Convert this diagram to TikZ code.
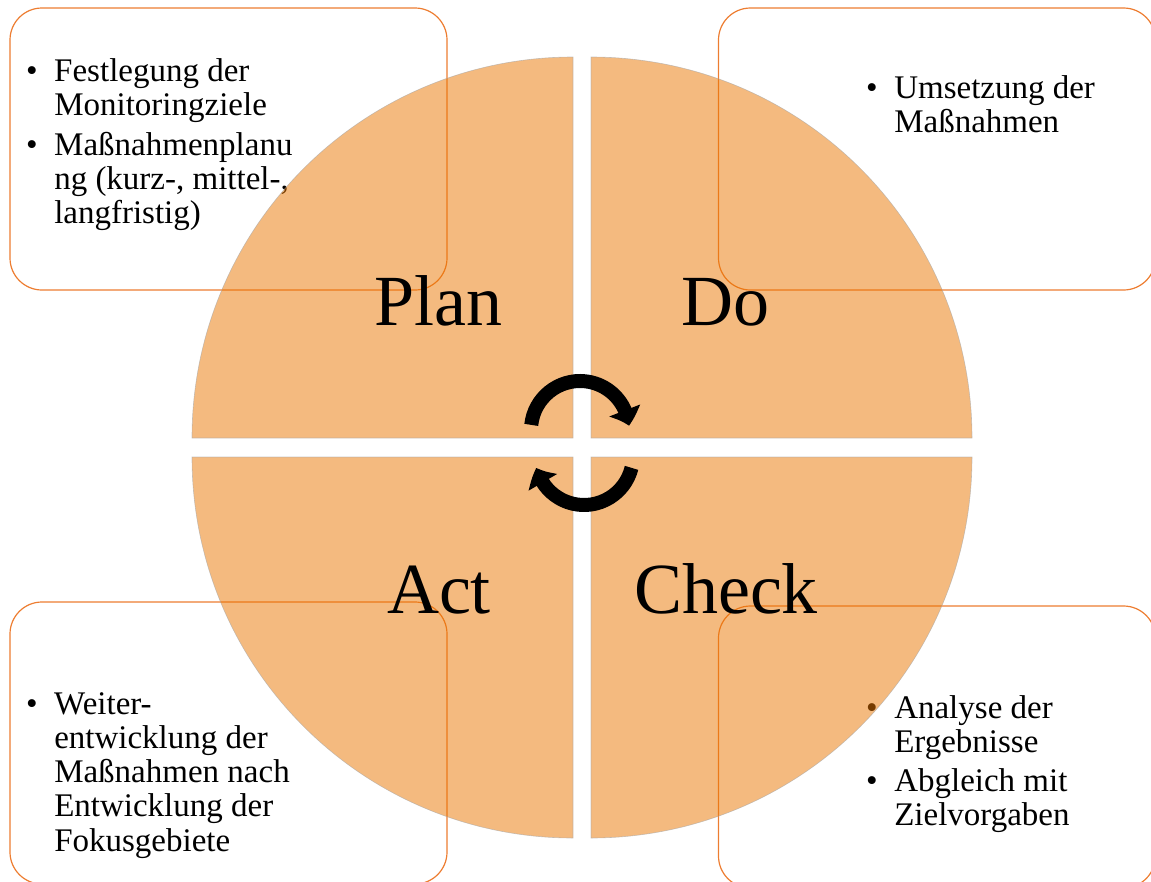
\documentclass[tikz,border=0pt]{standalone}
\usepackage{fontspec}
\setmainfont{Liberation Serif}
\usepackage{tikz}
\usetikzlibrary{arrows.meta, bending}

\definecolor{rahmen}{RGB}{237,125,49}
\definecolor{kreis}{RGB}{234,118,0}

\begin{document}
\begin{tikzpicture}[
        x=1pt, y=1pt,
        kasten/.style={rectangle, draw=rahmen, line width=1.2pt, rounded corners=32pt, minimum width=437pt, minimum height=282pt, inner sep=0pt},
        punkte/.style={anchor=base west, inner sep=0pt, outer sep=0pt, font=\rmfamily\fontsize{33}{34.3}\selectfont},
        viertel/.style={fill=kreis, fill opacity=0.5, draw=black!35, line width=0.6pt, draw opacity=0.6},
        phase/.style={anchor=base, inner sep=0pt, font=\rmfamily\fontsize{72}{80}\selectfont},
        pfeil/.style={line width=14pt, -{Triangle[width=32pt, length=16pt, bend]}}
    ]
    \useasboundingbox (0,0) rectangle (1151,-881);

    % Boxes
    \node[kasten] (planbox) at (228.5,-149) {};
    \node[kasten] (dobox) at (937,-149) {};
    \node[kasten] (actbox) at (228.5,-743) {};
    \node[kasten] (checkbox) at (937,-747) {};

    % Texts in the boxes
    \node[punkte] (plantext) at (26.2,-81) {\begin{tabular}[t]{@{}l@{\hspace{16.5pt}}l@{}}
        \textbullet & Festlegung der\\
                    & Monitoringziele\\[5.5pt]
        \textbullet & Maßnahmenplanu\\
                    & ng (kurz-, mittel-,\\
                    & langfristig)
    \end{tabular}};
    \node[punkte] (dotext) at (866.2,-98) {\begin{tabular}[t]{@{}l@{\hspace{16.5pt}}l@{}}
        \textbullet & Umsetzung der\\
                    & Maßnahmen
    \end{tabular}};
    \node[punkte] (acttext) at (26.2,-714) {\begin{tabular}[t]{@{}l@{\hspace{16.5pt}}l@{}}
        \textbullet & Weiter-\\
                    & entwicklung der\\
                    & Maßnahmen nach\\
                    & Entwicklung der\\
                    & Fokusgebiete
    \end{tabular}};
    \node[punkte] (checktext) at (866.2,-718) {\begin{tabular}[t]{@{}l@{\hspace{16.5pt}}l@{}}
        \textbullet & Analyse der\\
                    & Ergebnisse\\[4.5pt]
        \textbullet & Abgleich mit\\
                    & Zielvorgaben
    \end{tabular}};

    % Circle in four parts
    \filldraw[viertel] (573,-438) -- ++(-381,0) arc[start angle=180, end angle=90, radius=381] -- cycle;
    \filldraw[viertel] (591,-438) -- ++(0,381) arc[start angle=90, end angle=0, radius=381] -- cycle;
    \filldraw[viertel] (591,-457) -- ++(381,0) arc[start angle=0, end angle=-90, radius=381] -- cycle;
    \filldraw[viertel] (573,-457) -- ++(0,-381) arc[start angle=270, end angle=180, radius=381] -- cycle;

    % Phases
    \node[phase] (plan) at (438,-325) {Plan};
    \node[phase] (do) at (725.5,-325) {Do};
    \node[phase] (act) at (439,-613) {Act};
    \node[phase] (check) at (726,-613) {Check};

    % Cycle arrows
    \coordinate (oben) at (580,-430);
    \coordinate (unten) at (584,-456);
    \draw[pfeil] ([shift={(174:49)}]oben) arc[start angle=174, end angle=5, radius=49];
    \draw[pfeil] ([shift={(-14:49)}]unten) arc[start angle=-14, end angle=-166, radius=49];

\end{tikzpicture}
\end{document}
